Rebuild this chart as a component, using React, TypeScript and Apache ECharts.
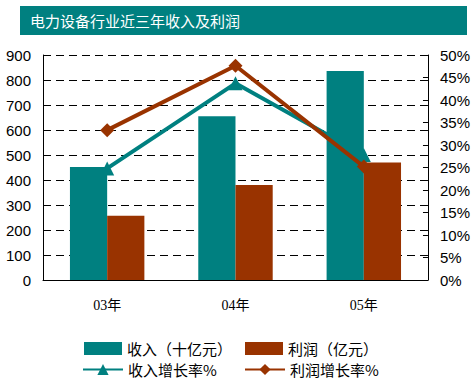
import React, { useEffect, useRef } from "react";
import * as echarts from "echarts";

const categories = ["03年", "04年", "05年"];
const revenue = [452, 655, 836];
const profit = [257, 380, 470];
const revenueGrowth = [24.8, 43.7, 27.8];
const profitGrowth = [33.3, 47.6, 25.2];
const leftTicks = { min: 0, max: 900, interval: 100 };
const rightTicks = { min: 0, max: 50, interval: 5 };

const TEAL = "#008080";
const BROWN = "#993300";
const CJK = "'Liberation Serif', 'Noto Sans CJK SC', serif";
const SANS = "'Liberation Sans', Arial, sans-serif";

export default function App() {
  const ref = useRef<HTMLDivElement>(null);
  useEffect(() => {
    if (!ref.current) return;
    const chart = echarts.init(ref.current, undefined, { renderer: "svg" });
    const legendText = { fontSize: 15, color: "#000", fontFamily: "'Noto Sans CJK SC', sans-serif" };
    chart.setOption({
      animation: false,
      backgroundColor: "#fff",
      graphic: [
        { type: "rect", shape: { x: 20, y: 6, width: 447, height: 29 }, style: { fill: TEAL } },
        {
          type: "text",
          x: 30,
          y: 20,
          style: {
            text: "电力设备行业近三年收入及利润",
            fill: "#fff",
            fontSize: 15,
            fontFamily: "'Noto Sans CJK SC', sans-serif",
            verticalAlign: "middle",
          },
        },
      ],
      grid: { left: 43, right: 44, top: 55, bottom: 100 },
      legend: [
        { data: ["收入（十亿元）"], left: 79, top: 336, itemWidth: 38, itemHeight: 13, itemGap: 0, textStyle: legendText, icon: "rect" },
        { data: ["利润（亿元）"], left: 240, top: 336, itemWidth: 38, itemHeight: 13, itemGap: 0, textStyle: legendText, icon: "rect" },
        { data: ["收入增长率%"], left: 77, top: 357, itemWidth: 40, itemHeight: 14, itemGap: 0, textStyle: legendText },
        { data: ["利润增长率%"], left: 239, top: 357, itemWidth: 40, itemHeight: 14, itemGap: 0, textStyle: legendText },
      ],
      xAxis: {
        type: "category",
        data: categories,
        boundaryGap: true,
        axisLine: { lineStyle: { color: "#000", width: 1 } },
        axisTick: { inside: true, length: 4, lineStyle: { color: "#000" } },
        axisLabel: { color: "#000", fontSize: 14, fontFamily: CJK, margin: 18 },
      },
      yAxis: [
        {
          type: "value",
          ...leftTicks,
          axisLine: { show: true, lineStyle: { color: "#000" } },
          axisTick: { show: false },
          axisLabel: { color: "#000", fontSize: 15, fontFamily: SANS, margin: 12 },
          splitLine: { show: true, lineStyle: { color: "#000", type: [8, 5], width: 1 } },
        },
        {
          type: "value",
          ...rightTicks,
          position: "right",
          axisLine: { show: true, lineStyle: { color: "#000" } },
          axisTick: { show: true, inside: true, length: 5, lineStyle: { color: "#000" } },
          axisLabel: { color: "#000", fontSize: 15, fontFamily: SANS, margin: 12, formatter: "{value}%" },
          splitLine: { show: false },
        },
      ],
      series: [
        {
          name: "收入（十亿元）",
          type: "bar",
          data: revenue,
          itemStyle: { color: TEAL },
          barGap: "0%",
          barCategoryGap: "42%",
          z: 2,
        },
        {
          name: "利润（亿元）",
          type: "bar",
          data: profit,
          itemStyle: { color: BROWN },
          barGap: "0%",
          barCategoryGap: "42%",
          z: 2,
        },
        {
          name: "收入增长率%",
          type: "line",
          yAxisIndex: 1,
          data: revenueGrowth,
          symbol: "triangle",
          symbolSize: 14,
          lineStyle: { color: TEAL, width: 4 },
          itemStyle: { color: TEAL },
          z: 5,
        },
        {
          name: "利润增长率%",
          type: "line",
          yAxisIndex: 1,
          data: profitGrowth,
          symbol: "diamond",
          symbolSize: 14,
          lineStyle: { color: BROWN, width: 4 },
          itemStyle: { color: BROWN },
          z: 6,
        },
      ],
    });
    return () => chart.dispose();
  }, []);
  return <div ref={ref} style={{ position: "fixed", left: 0, top: 0, width: 473, height: 380 }} />;
}
